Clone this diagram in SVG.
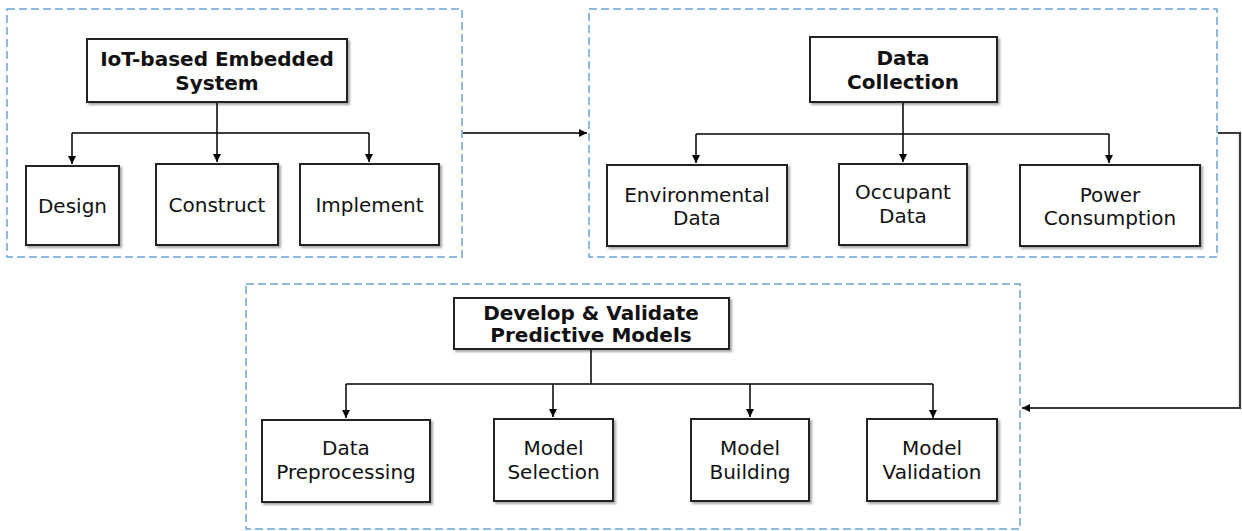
<svg xmlns="http://www.w3.org/2000/svg" width="1242" height="531" viewBox="0 0 1242 531">
<style>
.grp{fill:none;stroke:#6aa3d8;stroke-width:1.5;stroke-dasharray:8 4}
.box{fill:#fff;stroke:#222;stroke-width:2;filter:url(#sh)}
.t{font-family:"DejaVu Sans",Verdana,sans-serif;font-size:20px;fill:#111;text-anchor:middle}
.b{font-weight:bold}
.ln{fill:none;stroke:#000;stroke-width:1.5}
.lg{fill:none;stroke:#3a3a3a;stroke-width:2.2}
</style>
<defs>
<marker id="ar" markerUnits="userSpaceOnUse" markerWidth="10" markerHeight="10" refX="8" refY="5" orient="auto"><path d="M0,1 L8,5 L0,9 z" fill="#000"/></marker>
<filter id="sh" x="-10%" y="-10%" width="125%" height="130%"><feDropShadow dx="2" dy="2" stdDeviation="1.2" flood-color="#000" flood-opacity="0.35"/></filter>
</defs>
<g id="groups">
<rect class="grp" x="7" y="9" width="455" height="248"/>
<rect class="grp" x="589" y="9" width="628" height="248"/>
<rect class="grp" x="246" y="284" width="774" height="245"/>
</g>
<g id="connectors">
<path class="ln" d="M217,102 V133 M72,133 H369"/>
<path class="ln" d="M72,133 V164" marker-end="url(#ar)"/>
<path class="ln" d="M217,133 V162" marker-end="url(#ar)"/>
<path class="ln" d="M369,133 V162" marker-end="url(#ar)"/>
<path class="ln" d="M903,102 V134 M696,134 H1109"/>
<path class="ln" d="M696,134 V163" marker-end="url(#ar)"/>
<path class="ln" d="M903,134 V162" marker-end="url(#ar)"/>
<path class="ln" d="M1109,134 V163" marker-end="url(#ar)"/>
<path class="ln" d="M591,349 V384 M346,384 H933"/>
<path class="ln" d="M346,384 V418" marker-end="url(#ar)"/>
<path class="ln" d="M553,384 V417" marker-end="url(#ar)"/>
<path class="ln" d="M750,384 V417" marker-end="url(#ar)"/>
<path class="ln" d="M933,384 V418" marker-end="url(#ar)"/>
<path class="lg" d="M463,133 H587" marker-end="url(#ar)"/>
<path class="lg" d="M1218,133 H1240 V408 H1022" marker-end="url(#ar)"/>
</g>
<g id="n-iot"><rect class="box" x="87" y="39" width="260" height="63"/><text class="t b" x="217" y="66">IoT-based Embedded</text><text class="t b" x="217" y="90">System</text></g>
<g id="n-design"><rect class="box" x="26" y="166" width="93" height="79"/><text class="t" x="72.5" y="213">Design</text></g>
<g id="n-construct"><rect class="box" x="156" y="164" width="122" height="81"/><text class="t" x="217" y="212">Construct</text></g>
<g id="n-implement"><rect class="box" x="300" y="164" width="139" height="81"/><text class="t" x="369.5" y="212">Implement</text></g>
<g id="n-datacol"><rect class="box" x="810" y="37" width="187" height="65"/><text class="t b" x="903" y="65">Data</text><text class="t b" x="903" y="89">Collection</text></g>
<g id="n-env"><rect class="box" x="607" y="165" width="180" height="81"/><text class="t" x="697" y="202">Environmental</text><text class="t" x="697" y="225">Data</text></g>
<g id="n-occ"><rect class="box" x="839" y="164" width="128" height="81"/><text class="t" x="903" y="199">Occupant</text><text class="t" x="903" y="223">Data</text></g>
<g id="n-power"><rect class="box" x="1020" y="165" width="180" height="81"/><text class="t" x="1110" y="202">Power</text><text class="t" x="1110" y="225">Consumption</text></g>
<g id="n-develop"><rect class="box" x="454" y="298" width="275" height="51"/><text class="t b" x="591" y="320">Develop &amp; Validate</text><text class="t b" x="591" y="342">Predictive Models</text></g>
<g id="n-prep"><rect class="box" x="262" y="420" width="168" height="82"/><text class="t" x="346" y="455">Data</text><text class="t" x="346" y="479">Preprocessing</text></g>
<g id="n-sel"><rect class="box" x="494" y="419" width="119" height="82"/><text class="t" x="553.5" y="455">Model</text><text class="t" x="553.5" y="479">Selection</text></g>
<g id="n-build"><rect class="box" x="691" y="419" width="118" height="82"/><text class="t" x="750" y="455">Model</text><text class="t" x="750" y="479">Building</text></g>
<g id="n-valid"><rect class="box" x="867" y="419" width="130" height="82"/><text class="t" x="932" y="455">Model</text><text class="t" x="932" y="479">Validation</text></g>
</svg>
